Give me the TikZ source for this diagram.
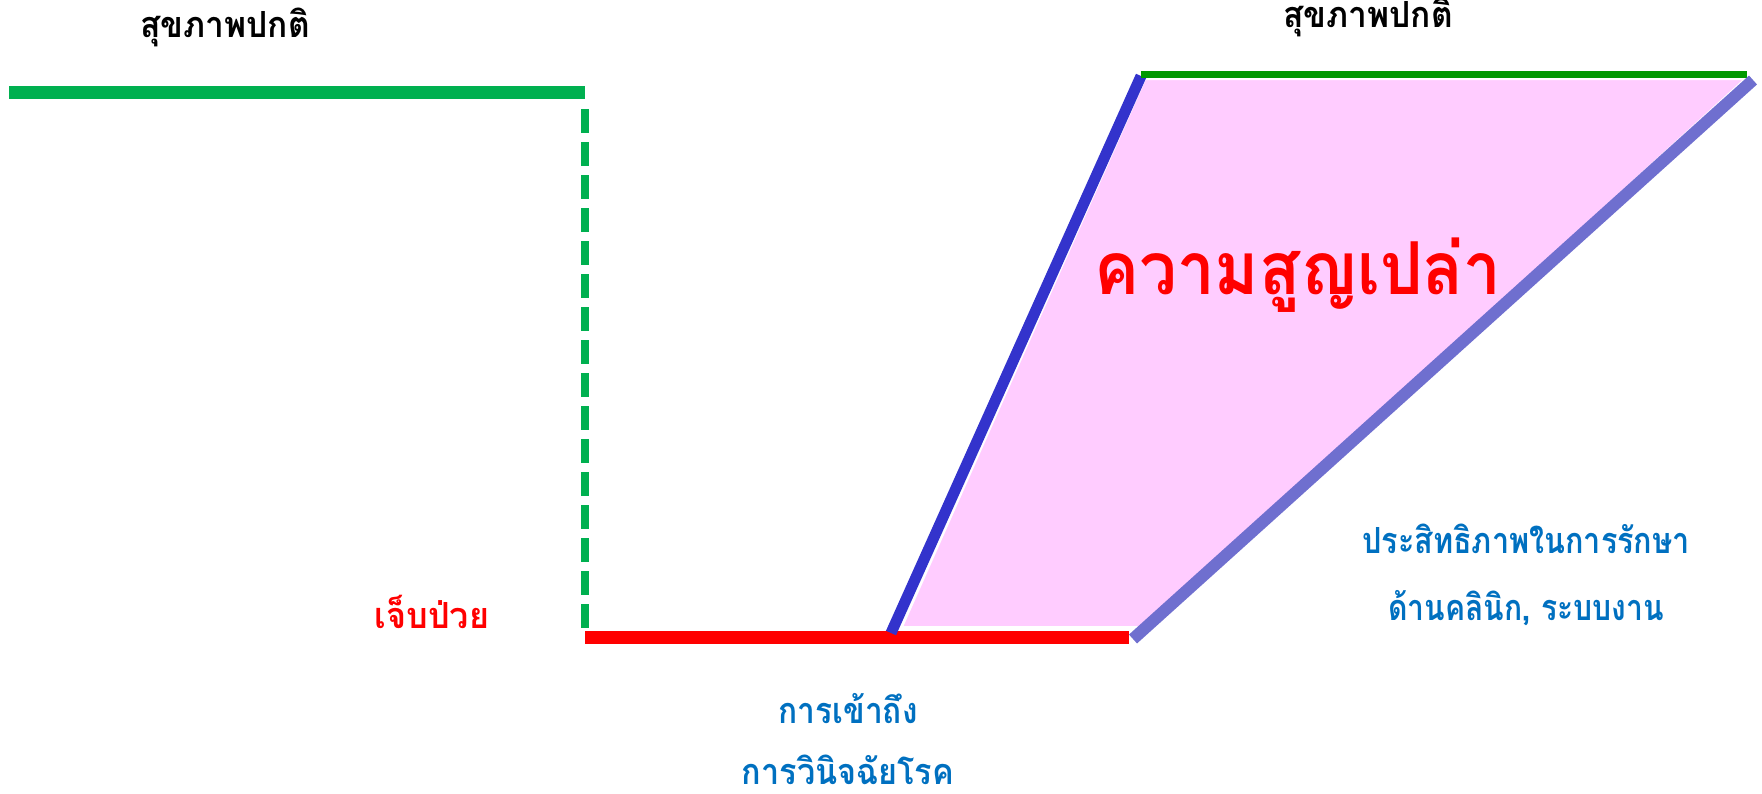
\documentclass[tikz,border=0pt]{standalone}
\usepackage{fontspec}
\newfontfamily\thai[Script=Thai]{Loma}
\definecolor{gleft}{HTML}{00B050}
\definecolor{gright}{HTML}{009900}
\definecolor{redc}{HTML}{FF0000}
\definecolor{bluel}{HTML}{3333CC}
\definecolor{purpl}{HTML}{6F6FCF}
\definecolor{pinkf}{HTML}{FFCCFF}
\definecolor{txtblue}{HTML}{0070C0}
\newcommand{\sqz}[2]{\scalebox{#1}[1]{#2}}
\tikzset{
  lbl/.style={font=\thai\bfseries\fontsize{36}{40}\selectfont, inner sep=0pt},
  blacklbl/.style={lbl, text=black},
  bluelbl/.style={lbl, text=txtblue},
  redlbl/.style={lbl, text=redc},
  biglbl/.style={font=\thai\bfseries\fontsize{73}{80}\selectfont, inner sep=0pt, text=redc},
}
\begin{document}
\begin{tikzpicture}[x=1pt,y=-1pt]
\useasboundingbox (0,0) rectangle (1762,793);
% coordinates
\coordinate (gl1) at (9,92);
\coordinate (gl2) at (585,92);
\coordinate (d1) at (585,109);
\coordinate (d2) at (585,636);
\coordinate (r1) at (585,637);
\coordinate (r2) at (1129,637);
\coordinate (b1) at (891,633);
\coordinate (b2) at (1141,76);
\coordinate (g1) at (1141,74);
\coordinate (g2) at (1747,74);
\coordinate (p1) at (1133,639);
\coordinate (p2) at (1753,80);
% pink area
\fill[pinkf, draw=white, line width=2pt] (1145,79) -- (1745,79) -- (1146,627) -- (902,627) -- cycle;
% lines
\draw[gleft, line width=13pt] (gl1) -- (gl2);
\draw[gleft, line width=8pt, dash pattern=on 24pt off 9pt] (d1) -- (d2);
\draw[redc, line width=13pt] (r1) -- (r2);
\draw[bluel, line width=11pt] (b1) -- (b2);
\draw[gright, line width=7pt] (g1) -- (g2);
\draw[purpl, line width=12pt] (p1) -- (p2);
% texts
\node[blacklbl] (t1) at (225,27) {\sqz{0.93}{สุขภาพปกติ}};
\node[blacklbl] (t2) at (1368,17) {\sqz{0.93}{สุขภาพปกติ}};
\node[biglbl] (t3) at (1298,275) {\sqz{0.92}{ความสูญเปล่า}};
\node[redlbl] (t4) at (432,612) {\sqz{0.95}{เจ็บป่วย}};
\node[bluelbl] (t5) at (848,709) {\sqz{0.88}{การเข้าถึง}};
\node[bluelbl] (t6) at (848,770) {\sqz{0.9}{การวินิจฉัยโรค}};
\node[bluelbl] (t7) at (1526,539) {\sqz{0.85}{ประสิทธิภาพในการรักษา}};
\node[bluelbl] (t8) at (1526,608) {\sqz{0.835}{ด้านคลินิก, ระบบงาน}};
\end{tikzpicture}
\end{document}
